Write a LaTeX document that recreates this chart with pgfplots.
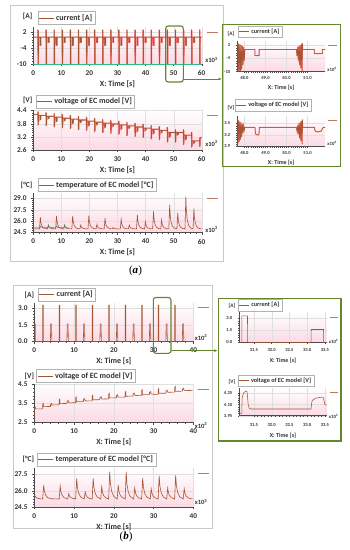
\documentclass[border=0pt]{standalone}
\usepackage{fontspec}
\setmainfont{Carlito}
\newfontfamily\serifnt{Liberation Serif}
\usepackage{pgfplots}
\usepackage{pgfplotstable}
\pgfplotsset{compat=1.18}
\usetikzlibrary{arrows.meta}
\definecolor{brownc}{RGB}{165,85,50}
\definecolor{brownl}{RGB}{185,120,95}
\definecolor{pinkbg}{RGB}{251,218,228}
\definecolor{greenc}{RGB}{100,135,45}
\definecolor{greenl}{RGB}{50,190,130}
\definecolor{framegray}{RGB}{200,200,200}

\pgfplotsset{
 common/.style={
   scale only axis, anchor=south west, axis lines*=left,
   axis line style={draw=black!70, line width=0.5pt},
   tick style={draw=black!70, line width=0.35pt},
   tick align=outside,
   grid=major, major grid style={draw=gray!25, line width=0.25pt},
   axis background/.style={shade, top color=white, bottom color=pinkbg},
   /pgf/number format/assume math mode=true,
   xlabel={X: Time [s]},
   xlabel style={text=black!80, at={(axis description cs:0.5,0)}, anchor=center},
   legend style={at={(0,1)}, anchor=south west, draw=gray!60, fill=white, inner sep=0.8pt, outer sep=0pt, legend cell align=left, text=black!80},
   clip=true,
 },
 mainax/.style={common,
   major tick length=2.2pt, minor tick length=1.2pt,
   ticklabel style={font=\fontsize{7.3}{8}\selectfont\bfseries, text=black!80},
   xticklabel style={yshift=-1pt}, yticklabel style={xshift=-1pt},
   legend style={font=\fontsize{8}{9}\selectfont\bfseries},
   legend image code/.code={\draw[##1, line width=0.6pt] (0pt,0pt) -- (15pt,0pt);},
   xlabel style={font=\fontsize{8}{9}\selectfont\bfseries, yshift=-20pt},
   minor x tick num=4, minor y tick num=5,
 },
 insetax/.style={common,
   major tick length=1.6pt, minor tick length=0.9pt,
   ticklabel style={font=\fontsize{4.6}{5}\selectfont\bfseries, text=black!80},
   xticklabel style={/pgf/number format/fixed, /pgf/number format/fixed zerofill, /pgf/number format/precision=1},
   yticklabel style={xshift=-2pt},
   legend style={font=\fontsize{6.2}{7}\selectfont\bfseries},
   legend image code/.code={\draw[##1, line width=0.5pt] (0pt,0pt) -- (10pt,0pt);},
   xlabel style={font=\fontsize{6}{7}\selectfont\bfseries, yshift=-16pt},
   minor x tick num=4, minor y tick num=4,
 },
 prec1/.style={yticklabel style={/pgf/number format/fixed, /pgf/number format/fixed zerofill, /pgf/number format/precision=1}},
 prec2/.style={yticklabel style={/pgf/number format/fixed, /pgf/number format/fixed zerofill, /pgf/number format/precision=2}},
}

% ---------- (a) current, main ----------
\pgfplotstableread[row sep=\\]{x y\\
0 0\\
1.64 0\\1.64 2.8\\1.71 -10\\1.76 2.6\\1.82 -10\\1.88 0\\2.41 0\\2.41 -3\\2.71 -3\\2.71 0\\
4.52 0\\4.52 2.8\\4.59 -10\\4.64 2.6\\4.70 -10\\4.76 0\\5.29 0\\5.29 -1.9\\5.59 -1.9\\5.59 0\\
7.40 0\\7.40 2.8\\7.47 -10\\7.52 2.6\\7.58 -10\\7.64 0\\8.17 0\\8.17 -3\\8.47 -3\\8.47 0\\
10.28 0\\10.28 2.8\\10.35 -10\\10.40 2.6\\10.46 -10\\10.52 0\\11.05 0\\11.05 -1.9\\11.35 -1.9\\11.35 0\\
13.16 0\\13.16 2.8\\13.23 -10\\13.28 2.6\\13.34 -10\\13.40 0\\13.93 0\\13.93 -3\\14.23 -3\\14.23 0\\
16.04 0\\16.04 2.8\\16.11 -10\\16.16 2.6\\16.22 -10\\16.28 0\\16.81 0\\16.81 -1.9\\17.11 -1.9\\17.11 0\\
18.92 0\\18.92 2.8\\18.99 -10\\19.04 2.6\\19.10 -10\\19.16 0\\19.69 0\\19.69 -3\\19.99 -3\\19.99 0\\
21.80 0\\21.80 2.8\\21.87 -10\\21.92 2.6\\21.98 -10\\22.04 0\\22.57 0\\22.57 -1.9\\22.87 -1.9\\22.87 0\\
24.68 0\\24.68 2.8\\24.75 -10\\24.80 2.6\\24.86 -10\\24.92 0\\25.45 0\\25.45 -3\\25.75 -3\\25.75 0\\
27.56 0\\27.56 2.8\\27.63 -10\\27.68 2.6\\27.74 -10\\27.80 0\\28.33 0\\28.33 -1.9\\28.63 -1.9\\28.63 0\\
30.44 0\\30.44 2.8\\30.51 -10\\30.56 2.6\\30.62 -10\\30.68 0\\31.21 0\\31.21 -3\\31.51 -3\\31.51 0\\
33.32 0\\33.32 2.8\\33.39 -10\\33.44 2.6\\33.50 -10\\33.56 0\\34.09 0\\34.09 -1.9\\34.39 -1.9\\34.39 0\\
36.20 0\\36.20 2.8\\36.27 -10\\36.32 2.6\\36.38 -10\\36.44 0\\36.97 0\\36.97 -3\\37.27 -3\\37.27 0\\
39.08 0\\39.08 2.8\\39.15 -10\\39.20 2.6\\39.26 -10\\39.32 0\\39.85 0\\39.85 -1.9\\40.15 -1.9\\40.15 0\\
41.96 0\\41.96 2.8\\42.03 -10\\42.08 2.6\\42.14 -10\\42.20 0\\42.73 0\\42.73 -3\\43.03 -3\\43.03 0\\
44.84 0\\44.84 2.8\\44.91 -10\\44.96 2.6\\45.02 -10\\45.08 0\\45.61 0\\45.61 -1.9\\45.91 -1.9\\45.91 0\\
47.72 0\\47.72 2.8\\47.79 -10\\47.84 2.6\\47.90 -10\\47.96 0\\48.49 0\\48.49 -3\\48.79 -3\\48.79 0\\
50.60 0\\50.60 2.8\\50.67 -10\\50.72 2.6\\50.78 -10\\50.84 0\\51.37 0\\51.37 -1.9\\51.67 -1.9\\51.67 0\\
53.48 0\\53.48 2.8\\53.55 -10\\53.60 2.6\\53.66 -10\\53.72 0\\54.25 0\\54.25 -3\\54.55 -3\\54.55 0\\
56.36 0\\56.36 2.8\\56.43 -10\\56.48 2.6\\56.54 -10\\56.60 0\\57.13 0\\57.13 -1.9\\57.43 -1.9\\57.43 0\\
59.24 0\\59.24 2.8\\59.31 -10\\59.36 2.6\\59.42 -10\\59.48 0\\60 0\\
}\curA

% ---------- (a) current, inset ----------
\pgfplotstableread[row sep=\\]{x y\\
47.60 2.8\\47.63 -10\\47.66 2.8\\47.69 -10\\47.72 2.6\\47.75 -10\\47.78 2.3\\47.81 -10\\47.84 2.0\\47.87 -9\\47.90 1.5\\47.93 -7\\47.96 1.0\\47.99 -5\\48.02 0\\
48.50 0\\48.50 -2.8\\48.70 -2.8\\48.70 0\\
50.47 0\\50.50 -3\\50.53 1\\50.56 -5\\50.59 1.5\\50.62 -7\\50.65 2\\50.68 -8.5\\50.71 2.5\\50.74 -10\\50.76 2.8\\50.77 0\\
51.32 0\\51.32 -1.85\\51.70 -1.85\\51.70 0\\51.90 0\\
}\curAi

% ---------- (a) voltage, main ----------
\pgfplotstableread[row sep=\\]{x y\\
0 4.22\\
1.64 4.22\\1.64 4.36\\1.71 3.73\\1.76 4.32\\1.82 3.78\\1.88 4.18\\2.41 4.18\\2.43 3.98\\2.71 4.01\\2.73 4.18\\
4.52 4.18\\4.52 4.32\\4.59 3.69\\4.64 4.28\\4.70 3.74\\4.76 4.14\\5.29 4.14\\5.31 4.03\\5.59 4.06\\5.61 4.14\\
7.40 4.14\\7.40 4.28\\7.47 3.65\\7.52 4.24\\7.58 3.70\\7.64 4.10\\8.17 4.10\\8.19 3.90\\8.47 3.93\\8.49 4.10\\
10.28 4.10\\10.28 4.24\\10.35 3.60\\10.40 4.20\\10.46 3.65\\10.52 4.05\\11.05 4.05\\11.07 3.94\\11.35 3.97\\11.37 4.05\\
13.16 4.05\\13.16 4.19\\13.23 3.56\\13.28 4.15\\13.34 3.61\\13.40 4.01\\13.93 4.01\\13.95 3.81\\14.23 3.84\\14.25 4.01\\
16.04 4.01\\16.04 4.15\\16.11 3.52\\16.16 4.11\\16.22 3.57\\16.28 3.97\\16.81 3.97\\16.83 3.86\\17.11 3.89\\17.13 3.97\\
18.92 3.97\\18.92 4.11\\18.99 3.47\\19.04 4.07\\19.10 3.52\\19.16 3.92\\19.69 3.92\\19.71 3.72\\19.99 3.75\\20.01 3.92\\
21.80 3.92\\21.80 4.06\\21.87 3.42\\21.92 4.02\\21.98 3.47\\22.04 3.87\\22.57 3.87\\22.59 3.76\\22.87 3.79\\22.89 3.87\\
24.68 3.87\\24.68 4.01\\24.75 3.38\\24.80 3.97\\24.86 3.43\\24.92 3.83\\25.45 3.83\\25.47 3.63\\25.75 3.66\\25.77 3.83\\
27.56 3.83\\27.56 3.97\\27.63 3.34\\27.68 3.93\\27.74 3.39\\27.80 3.79\\28.33 3.79\\28.35 3.68\\28.63 3.71\\28.65 3.79\\
30.44 3.79\\30.44 3.93\\30.51 3.30\\30.56 3.89\\30.62 3.35\\30.68 3.75\\31.21 3.75\\31.23 3.55\\31.51 3.58\\31.53 3.75\\
33.32 3.75\\33.32 3.89\\33.39 3.25\\33.44 3.85\\33.50 3.30\\33.56 3.70\\34.09 3.70\\34.11 3.59\\34.39 3.62\\34.41 3.70\\
36.20 3.70\\36.20 3.84\\36.27 3.20\\36.32 3.80\\36.38 3.25\\36.44 3.65\\36.97 3.65\\36.99 3.45\\37.27 3.48\\37.29 3.65\\
39.08 3.65\\39.08 3.79\\39.15 3.15\\39.20 3.75\\39.26 3.20\\39.32 3.60\\39.85 3.60\\39.87 3.49\\40.15 3.52\\40.17 3.60\\
41.96 3.60\\41.96 3.74\\42.03 3.10\\42.08 3.70\\42.14 3.15\\42.20 3.55\\42.73 3.55\\42.75 3.35\\43.03 3.38\\43.05 3.55\\
44.84 3.55\\44.84 3.69\\44.91 3.05\\44.96 3.65\\45.02 3.10\\45.08 3.50\\45.61 3.50\\45.63 3.39\\45.91 3.42\\45.93 3.50\\
47.72 3.50\\47.72 3.64\\47.79 2.95\\47.84 3.60\\47.90 3.00\\47.96 3.40\\48.49 3.40\\48.51 3.20\\48.79 3.23\\48.81 3.40\\
50.60 3.40\\50.60 3.54\\50.67 2.95\\50.72 3.50\\50.78 3.00\\50.84 3.40\\51.37 3.40\\51.39 3.29\\51.67 3.32\\51.69 3.40\\
53.48 3.40\\53.48 3.54\\53.55 2.83\\53.60 3.50\\53.66 2.88\\53.72 3.28\\54.25 3.28\\54.27 3.08\\54.55 3.11\\54.57 3.28\\
56.36 3.28\\56.36 3.42\\56.43 2.72\\56.48 3.38\\56.54 2.77\\56.60 3.02\\57.13 3.02\\57.15 2.91\\57.43 2.94\\57.45 3.02\\
59.24 3.02\\59.24 3.16\\59.31 2.75\\59.36 3.12\\59.42 2.80\\59.48 3.15\\60 3.18\\
}\volA

% ---------- (a) voltage, inset ----------
\pgfplotstableread[row sep=\\]{x y\\
47.60 3.62\\47.63 2.95\\47.66 3.60\\47.69 2.98\\47.72 3.58\\47.75 3.02\\47.78 3.55\\47.81 3.08\\47.84 3.52\\47.87 3.15\\47.90 3.48\\47.93 3.25\\47.96 3.44\\47.99 3.33\\48.02 3.40\\
48.50 3.40\\48.52 3.24\\48.56 3.21\\48.64 3.20\\48.69 3.22\\48.71 3.40\\
50.47 3.40\\50.50 3.30\\50.53 3.45\\50.56 3.22\\50.59 3.50\\50.62 3.12\\50.65 3.54\\50.68 3.05\\50.71 3.57\\50.74 2.96\\50.76 3.60\\50.77 3.40\\
51.33 3.40\\51.35 3.32\\51.40 3.29\\51.50 3.28\\51.60 3.29\\51.66 3.31\\51.70 3.36\\51.75 3.40\\51.90 3.40\\
}\volAi

% ---------- (a) temperature ----------
\pgfplotstableread[row sep=\\]{x y\\
0 24.95\\
2.21 24.95\\2.51 26.52\\2.71 25.81\\3.01 25.39\\3.51 25.12\\4.21 25.00\\
5.09 24.95\\5.39 25.46\\5.59 25.23\\5.89 25.09\\6.39 25.01\\7.09 24.97\\
7.97 24.95\\8.27 26.70\\8.47 25.91\\8.77 25.44\\9.27 25.14\\9.97 25.00\\
10.85 24.95\\11.15 25.46\\11.35 25.23\\11.65 25.09\\12.15 25.01\\12.85 24.97\\
13.73 24.95\\14.03 26.70\\14.23 25.91\\14.53 25.44\\15.03 25.14\\15.73 25.00\\
16.61 24.95\\16.91 25.46\\17.11 25.23\\17.41 25.09\\17.91 25.01\\18.61 24.97\\
19.49 24.95\\19.79 26.75\\19.99 25.94\\20.29 25.45\\20.79 25.15\\21.49 25.00\\
22.37 24.95\\22.67 25.55\\22.87 25.28\\23.17 25.12\\23.67 25.02\\24.37 24.97\\
25.25 24.95\\25.55 26.38\\25.75 25.74\\26.05 25.35\\26.55 25.11\\27.25 24.99\\
28.13 24.95\\28.43 25.14\\28.63 25.05\\28.93 25.00\\29.43 24.97\\30.13 24.95\\
31.01 24.95\\31.31 26.24\\31.51 25.66\\31.81 25.31\\32.31 25.09\\33.01 24.99\\
33.89 24.95\\34.19 25.46\\34.39 25.23\\34.69 25.09\\35.19 25.01\\35.89 24.97\\
36.77 24.95\\37.07 26.84\\37.27 25.99\\37.57 25.48\\38.07 25.16\\38.77 25.01\\
39.65 24.95\\39.95 25.92\\40.15 25.48\\40.45 25.22\\40.95 25.06\\41.65 24.98\\
42.53 24.95\\42.83 27.30\\43.03 26.24\\43.33 25.61\\43.83 25.21\\44.53 25.02\\
45.41 24.95\\45.71 26.15\\45.91 25.61\\46.21 25.29\\46.71 25.08\\47.41 24.99\\
48.29 24.95\\48.59 28.20\\48.79 26.74\\49.09 25.86\\49.59 25.31\\50.29 25.05\\
51.17 24.95\\51.47 27.07\\51.67 26.12\\51.97 25.54\\52.47 25.18\\53.17 25.01\\
54.05 24.95\\54.35 29.27\\54.55 27.33\\54.85 26.16\\55.35 25.43\\56.05 25.08\\
56.93 24.95\\57.23 27.67\\57.43 26.45\\57.73 25.71\\58.23 25.25\\58.93 25.03\\
60 24.95\\
}\tmpA
\pgfplotstableread[row sep=\\]{x y\\
0 25.08\\2.21 25.08\\2.51 25.30\\2.80 25.15\\5.09 25.10\\5.39 25.46\\5.59 25.24\\5.89 25.12\\7.97 25.10\\8.27 25.35\\8.60 25.15\\10.85 25.10\\11.15 25.46\\11.35 25.24\\11.65 25.12\\12.60 25.08\\
}\tmpAg

% ---------- (b) current ----------
\pgfplotstableread[row sep=\\]{x y\\
0 0\\0.01 1.6\\0.25 1.6\\0.26 0\\
2.11 0\\2.12 3.3\\2.28 3.3\\2.29 0\\
4.06 0\\4.11 1.6\\4.36 1.6\\4.41 0\\
6.26 0\\6.27 3.3\\6.43 3.3\\6.44 0\\
8.21 0\\8.26 1.6\\8.51 1.6\\8.56 0\\
10.41 0\\10.42 3.3\\10.58 3.3\\10.59 0\\
12.36 0\\12.41 1.6\\12.66 1.6\\12.71 0\\
14.56 0\\14.57 3.3\\14.73 3.3\\14.74 0\\
16.51 0\\16.56 1.6\\16.81 1.6\\16.86 0\\
18.71 0\\18.72 3.3\\18.88 3.3\\18.89 0\\
20.66 0\\20.71 1.6\\20.96 1.6\\21.01 0\\
22.86 0\\22.87 3.3\\23.03 3.3\\23.04 0\\
24.81 0\\24.86 1.6\\25.11 1.6\\25.16 0\\
27.01 0\\27.02 3.3\\27.18 3.3\\27.19 0\\
28.96 0\\29.01 1.6\\29.26 1.6\\29.31 0\\
31.16 0\\31.17 3.3\\31.33 3.3\\31.34 0\\
33.11 0\\33.16 1.6\\33.41 1.6\\33.46 0\\
35.31 0\\35.32 3.3\\35.48 3.3\\35.49 0\\
37.26 0\\37.31 1.6\\37.56 1.6\\37.61 0\\
39.8 0\\
}\curB
\pgfplotstableread[row sep=\\]{x y\\
31.09 0\\31.16 0\\31.165 3.3\\31.32 3.3\\31.325 0\\33.11 0\\33.115 1.6\\33.46 1.6\\33.465 0\\33.60 0\\
}\curBi

% ---------- (b) voltage ----------
\pgfplotstableread[row sep=\\]{x y\\
0 2.78\\0.02 3.22\\0.25 3.30\\0.30 3.21\\2.11 3.21\\
2.13 3.47\\2.28 3.51\\2.31 3.33\\4.06 3.34\\
4.09 3.45\\4.38 3.50\\4.42 3.40\\4.76 3.42\\6.26 3.43\\
6.28 3.69\\6.43 3.73\\6.46 3.49\\8.21 3.50\\
8.24 3.61\\8.53 3.66\\8.57 3.56\\8.91 3.53\\10.41 3.54\\
10.43 3.80\\10.58 3.84\\10.61 3.59\\12.36 3.60\\
12.39 3.71\\12.68 3.76\\12.72 3.66\\13.06 3.63\\14.56 3.64\\
14.58 3.90\\14.73 3.94\\14.76 3.69\\16.51 3.70\\
16.54 3.81\\16.83 3.86\\16.87 3.76\\17.21 3.73\\18.71 3.74\\
18.73 4.00\\18.88 4.04\\18.91 3.79\\20.66 3.80\\
20.69 3.91\\20.98 3.96\\21.02 3.86\\21.36 3.83\\22.86 3.84\\
22.88 4.10\\23.03 4.14\\23.06 3.88\\24.81 3.89\\
24.84 4.00\\25.13 4.05\\25.17 3.95\\25.51 3.92\\27.01 3.93\\
27.03 4.19\\27.18 4.23\\27.21 3.96\\28.96 3.97\\
28.99 4.08\\29.28 4.13\\29.32 4.03\\29.66 3.99\\31.16 3.98\\
31.18 4.24\\31.30 4.28\\31.34 4.04\\33.11 4.04\\
33.14 4.15\\33.44 4.20\\33.48 4.10\\33.82 4.09\\35.31 4.10\\
35.33 4.36\\35.48 4.40\\35.51 4.14\\37.26 4.15\\
37.29 4.26\\37.58 4.31\\37.62 4.21\\37.96 4.18\\39.80 4.19\\
}\volB
\pgfplotstableread[row sep=\\]{x y\\
31.09 3.98\\31.16 3.98\\31.17 4.18\\31.19 4.23\\31.22 4.26\\31.28 4.28\\31.31 4.27\\31.34 4.10\\31.37 4.05\\31.42 4.04\\33.11 4.04\\33.12 4.10\\33.14 4.15\\33.18 4.17\\33.25 4.185\\33.35 4.195\\33.45 4.20\\33.48 4.14\\33.50 4.10\\33.60 4.09\\
}\volBi

% ---------- (b) temperature ----------
\pgfplotstableread[row sep=\\]{x y\\
0 25.65\\0.3 25.45\\0.8 25.32\\1.5 25.27\\
2.11 25.25\\2.36 26.51\\2.56 25.94\\2.86 25.60\\3.36 25.38\\4.06 25.28\\
6.26 25.25\\6.51 26.45\\6.71 25.91\\7.01 25.59\\7.51 25.37\\8.21 25.27\\
8.41 25.25\\8.66 25.74\\8.86 25.52\\9.16 25.39\\9.66 25.30\\10.36 25.26\\
10.41 25.25\\10.66 27.13\\10.86 26.28\\11.16 25.78\\11.66 25.44\\12.36 25.29\\
12.56 25.25\\12.81 25.89\\13.01 25.60\\13.31 25.43\\13.81 25.31\\14.51 25.26\\
14.56 25.25\\14.81 27.13\\15.01 26.28\\15.31 25.78\\15.81 25.44\\16.51 25.29\\
16.71 25.25\\16.96 26.36\\17.16 25.86\\17.46 25.56\\17.96 25.36\\18.66 25.27\\
18.71 25.25\\18.96 27.75\\19.16 26.63\\19.46 25.95\\19.96 25.50\\20.66 25.30\\
20.86 25.25\\21.11 26.51\\21.31 25.94\\21.61 25.60\\22.11 25.38\\22.81 25.28\\
22.86 25.25\\23.11 27.75\\23.31 26.63\\23.61 25.95\\24.11 25.50\\24.81 25.30\\
25.01 25.25\\25.26 26.26\\25.46 25.81\\25.76 25.53\\26.26 25.35\\26.96 25.27\\
27.01 25.25\\27.26 27.19\\27.46 26.32\\27.76 25.79\\28.26 25.44\\28.96 25.29\\
29.16 25.25\\29.41 26.20\\29.61 25.77\\29.91 25.52\\30.41 25.35\\31.11 25.27\\
31.16 25.25\\31.41 27.38\\31.61 26.42\\31.91 25.85\\32.41 25.46\\33.11 25.29\\
33.31 25.25\\33.56 26.26\\33.76 25.81\\34.06 25.53\\34.56 25.35\\35.26 25.27\\
35.31 25.25\\35.56 27.44\\35.76 26.45\\36.06 25.86\\36.56 25.47\\37.26 25.29\\
37.46 25.25\\37.71 26.20\\37.91 25.77\\38.21 25.52\\38.71 25.35\\39.41 25.27\\39.80 25.25\\
}\tmpB

\newcommand{\lab}[3]{\node[font=\fontsize{7.5}{8}\selectfont\bfseries, text=black!80, inner sep=0pt] at (#1pt,-#2pt) {#3};}
\newcommand{\labs}[3]{\node[font=\fontsize{5.3}{6}\selectfont\bfseries, text=black!80, inner sep=0pt] at (#1pt,-#2pt) {#3};}
\newcommand{\sca}[2]{\node[font=\fontsize{6.5}{7}\selectfont\bfseries, text=black!80, inner sep=0pt] at (#1pt,-#2pt) {x10\textsuperscript{3}};}
\newcommand{\scs}[2]{\node[font=\fontsize{4.8}{5}\selectfont\bfseries, text=black!80, inner sep=0pt] at (#1pt,-#2pt) {x10\textsuperscript{3}};}
\newcommand{\rl}[3]{\draw[brownl, line width=0.7pt] (#1pt,-#3pt) -- (#2pt,-#3pt);}

\begin{document}
\begin{tikzpicture}
\path[use as bounding box] (0pt,0pt) rectangle (349pt,-550pt);
\fill[white] (0pt,0pt) rectangle (349pt,-550pt);
\draw[framegray, line width=0.6pt] (10.7pt,-5.5pt) rectangle (223.5pt,-261pt);
\draw[framegray, line width=0.6pt] (13.3pt,-285.5pt) rectangle (212.3pt,-528.5pt);

% ===== (a) main current
\begin{axis}[mainax, at={(33.3pt,-64pt)}, width=168.4pt, height=37.3pt,
  xmin=0, xmax=60, xtick={0,10,...,60}, ymin=-10, ymax=3.9, ytick={-10,-4,2},
  legend style={xshift=4.4pt, yshift=2.4pt}]
\addplot[red, line width=1.1pt, opacity=0.55, forget plot] table {\curA};
\addplot[brownc, line width=0.55pt] table {\curA};
\addlegendentry{current [A]}
\addplot[greenl, line width=0.9pt, forget plot] coordinates {(0,-10) (60,-10)};
\end{axis}

% ===== (a) main voltage
\begin{axis}[mainax, prec1, at={(33.3pt,-150pt)}, width=168.4pt, height=40.5pt,
  xmin=0, xmax=60, xtick={0,10,...,60}, ymin=2.6, ymax=4.45, ytick={2.6,3.2,3.8,4.4},
  legend style={xshift=2.7pt, yshift=1.8pt}]
\addplot[red, line width=1.1pt, opacity=0.55, forget plot] table {\volA};
\addplot[brownc, line width=0.55pt] table {\volA};
\addlegendentry{voltage of EC model [V]}
\end{axis}

% ===== (a) main temperature
\begin{axis}[mainax, prec1, at={(33.3pt,-232.3pt)}, width=168.4pt, height=39.8pt,
  xmin=0, xmax=60, xtick={0,10,...,60}, ymin=24.5, ymax=29.8, ytick={24.5,26,27.5,29},
  legend style={xshift=4.4pt, yshift=1.2pt}]
\addplot[brownc, line width=0.6pt] table {\tmpA};
\addlegendentry{temperature of EC model [°C]}
\addplot[greenl!80!black, line width=0.5pt, forget plot] table {\tmpAg};
\end{axis}

% ===== (a) inset current
\begin{axis}[insetax, at={(237.3pt,-71.6pt)}, width=87.7pt, height=31pt,
  xmin=47.66, xmax=51.83, xtick={48,49,50,51}, ymin=-10, ymax=4, ytick={-10,-4,2},
  minor x tick num=9, legend style={xshift=0.7pt, yshift=3.1pt}]
\addplot[red, line width=0.9pt, opacity=0.55, forget plot] table {\curAi};
\addplot[brownc, line width=0.5pt] table {\curAi};
\addlegendentry{current [A]}
\end{axis}

% ===== (a) inset voltage
\begin{axis}[insetax, prec1, at={(237.3pt,-146.5pt)}, width=87.7pt, height=30.7pt,
  xmin=47.66, xmax=51.83, xtick={48,49,50,51}, ymin=2.9, ymax=3.7, ytick={2.9,3.2,3.5},
  minor x tick num=9, legend style={xshift=-2.3pt, yshift=4.6pt}]
\addplot[red, line width=0.9pt, opacity=0.55, forget plot] table {\volAi};
\addplot[brownc, line width=0.5pt] table {\volAi};
\addlegendentry{voltage of EC model [V]}
\end{axis}

% ===== (b) main current
\begin{axis}[mainax, prec1, at={(34.3pt,-341.3pt)}, width=159pt, height=38.3pt,
  xmin=0, xmax=40, xtick={0,10,...,40}, ymin=0, ymax=3.5, ytick={0,1.5,3},
  legend style={xshift=4pt, yshift=2.3pt}]
\addplot[brownc, line width=0.55pt] table {\curB};
\addlegendentry{current [A]}
\end{axis}

% ===== (b) main voltage
\begin{axis}[mainax, prec1, at={(34.3pt,-422.3pt)}, width=159pt, height=38.7pt,
  xmin=0, xmax=40, xtick={0,10,...,40}, ymin=2.5, ymax=4.55, ytick={2.5,3.5,4.5},
  minor y tick num=4, legend style={xshift=2.4pt, yshift=1.2pt}]
\addplot[brownc, line width=0.6pt] table {\volB};
\addlegendentry{voltage of EC model [V]}
\end{axis}

% ===== (b) main temperature
\begin{axis}[mainax, prec1, at={(34.3pt,-507.2pt)}, width=159pt, height=38.8pt,
  xmin=0, xmax=40, xtick={0,10,...,40}, ymin=24.5, ymax=28.05, ytick={24.5,26,27.5},
  legend style={xshift=3pt, yshift=2.3pt}]
\addplot[brownc, line width=0.6pt] table {\tmpB};
\addlegendentry{temperature of EC model [°C]}
\end{axis}

% ===== (b) inset current
\begin{axis}[insetax, prec1, at={(239.3pt,-342.3pt)}, width=87.4pt, height=30.4pt,
  xmin=31.09, xmax=33.55, xtick={31.5,32,32.5,33,33.5}, ymin=0, ymax=3.8, ytick={0,1.5,3},
  legend style={xshift=-1.3pt, yshift=0.9pt}, xticklabel style={yshift=-1.5pt}, xlabel style={yshift=-2pt}]
\addplot[brownc, line width=0.55pt] table {\curBi};
\addlegendentry{current [A]}
\end{axis}

% ===== (b) inset voltage
\begin{axis}[insetax, prec2, at={(239.3pt,-415.7pt)}, width=87.4pt, height=27.6pt,
  xmin=31.09, xmax=33.55, xtick={31.5,32,32.5,33,33.5}, ymin=3.95, ymax=4.32, ytick={3.95,4.10,4.25},
  legend style={xshift=-1.6pt, yshift=1.7pt}, xticklabel style={yshift=-2.5pt}, xlabel style={yshift=-4pt}]
\addplot[brownc, line width=0.55pt] table {\volBi};
\addlegendentry{voltage of EC model [V]}
\end{axis}

% unit labels
\lab{27.7}{16.7}{[A]}
\lab{27.7}{100.6}{[V]}
\lab{26.7}{185}{[°C]}
\lab{29.3}{295}{[A]}
\lab{29.3}{376.1}{[V]}
\lab{28.3}{459}{[°C]}
\labs{231}{33.5}{[A]}
\labs{231}{107.6}{[V]}
\labs{232}{306}{[A]}
\labs{232}{381.7}{[V]}

% scale labels
\sca{211.5}{60}
\sca{211.5}{143.7}
\sca{211.5}{229.5}
\sca{201}{337.3}
\sca{201}{425.7}
\sca{201}{502}
\scs{332}{69.5}
\scs{332}{143.3}
\scs{333.5}{341.7}
\scs{333.5}{416}

% right marks
\rl{207}{218}{32.3}
\rl{207}{218}{115.4}
\rl{207}{218}{198.4}
\rl{197.7}{209.3}{307.7}
\rl{197.7}{209.3}{389}
\rl{197.7}{209.3}{473.2}
\rl{328}{337}{45.1}
\rl{328}{337}{120}
\rl{330}{338.3}{317.3}
\rl{330}{338.3}{392.7}

% inset frames and callouts
\draw[greenc, line width=1.3pt] (222.5pt,-24.5pt) rectangle (340.5pt,-166.8pt);
\draw[greenc, line width=1.3pt] (218.3pt,-298.8pt) rectangle (341pt,-441pt);
\draw[greenc, line width=1.1pt, rounded corners=2.5pt] (165.7pt,-26pt) rectangle (183.3pt,-82pt);
\draw[greenc, line width=1pt, -{Latex[length=3pt,width=3pt]}] (183.3pt,-79pt) -- (221.6pt,-79pt);
\draw[greenc, line width=1.1pt, rounded corners=2.5pt] (153.3pt,-297.5pt) rectangle (171pt,-353.3pt);
\draw[greenc, line width=1pt, -{Latex[length=3pt,width=3pt]}] (171pt,-350.6pt) -- (217.4pt,-350.6pt);

% panel captions
\node[font=\serifnt\fontsize{11}{13}\selectfont, inner sep=0pt] at (135.5pt,-270.5pt) {(\textbf{\textit{a}})};
\node[font=\serifnt\fontsize{11}{13}\selectfont, inner sep=0pt] at (126pt,-537pt) {(\textbf{\textit{b}})};
\end{tikzpicture}
\end{document}
